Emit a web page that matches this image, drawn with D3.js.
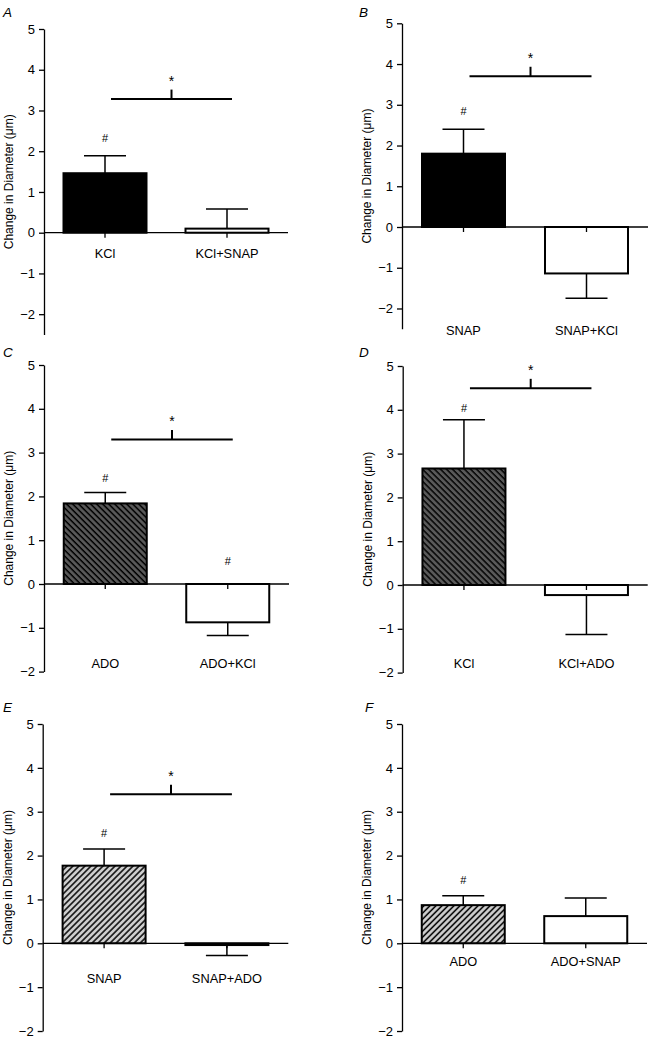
<!DOCTYPE html>
<html><head><meta charset="utf-8">
<script src="https://cdn.jsdelivr.net/npm/d3@7/dist/d3.min.js"></script>
<style>
html,body{margin:0;padding:0;background:#fff;}
svg{display:block;font-family:"Liberation Sans",Arial,sans-serif;}
</style></head>
<body>
<svg id="chart" width="652" height="1039"></svg>
<script>
// ---- data ----
const panels = ["A","B","C","D","E","F"];
const categories = [
  ["KCl","KCl+SNAP"],["SNAP","SNAP+KCl"],["ADO","ADO+KCl"],
  ["KCl","KCl+ADO"],["SNAP","SNAP+ADO"],["ADO","ADO+SNAP"]
];
const means = [[1.46,0.10],[1.80,-1.14],[1.84,-0.875],[2.66,-0.23],[1.77,-0.04],[0.87,0.62]];
const sems  = [[0.43,0.48],[0.60,0.61],[0.25,0.30],[1.11,0.90],[0.38,0.24],[0.215,0.41]];
const sigBar = [3.28,3.70,3.30,4.49,3.40,null];
const hashMarks = [[2.33,null],[2.85,null],[2.41,0.53],[4.03,null],[2.51,null],[1.44,null]];
const yTicks = [-2,-1,0,1,2,3,4,5];
const yTitle = "Change in Diameter (\u03bcm)";

// ---- layout / styles ----
const layout = [
 {ax:44,   y5:29,   y0:232.7, yMin:-2.5, xEnd:288,   lx:3,   ly:17,  labelDy:20.3, fill:["solid","open"]},
 {ax:402,  y5:23.3, y0:227,   yMin:-2.5, xEnd:648,   lx:359, ly:17,  labelDy:103,  fill:["solid","open"]},
 {ax:44,   y5:365,  y0:584,   yMin:-2,   xEnd:289,   lx:3,   ly:357, labelDy:79.3, fill:["dark","open"]},
 {ax:402.7,y5:366,  y0:585,   yMin:-2,   xEnd:647.7, lx:359, ly:357, labelDy:78.3, fill:["dark","open"]},
 {ax:42.7, y5:724,  y0:943.3, yMin:-2,   xEnd:288.3, lx:3,   ly:712, labelDy:35,   fill:["light","open"]},
 {ax:402,  y5:724,  y0:943.3, yMin:-2,   xEnd:647,   lx:365, ly:712, labelDy:18.4, fill:["light","open"]}
];
const barW = 83, capW = 42;

const svg = d3.select("#chart");
const defs = svg.append("defs");
function hatch(id, bg, angle){
  const p = defs.append("pattern").attr("id",id).attr("patternUnits","userSpaceOnUse")
    .attr("width",4.25).attr("height",4.25).attr("patternTransform",`rotate(${angle})`);
  p.append("rect").attr("width",4.25).attr("height",4.25).attr("fill",bg);
  p.append("line").attr("x1",1).attr("x2",1).attr("y1",-1).attr("y2",6)
    .attr("stroke","#000").attr("stroke-width",1.5);
}
hatch("hDark","#5a5a5a",-45);
hatch("hLight","#cfcfcf",45);
const fillMap = {solid:"#000", open:"#fff", dark:"url(#hDark)", light:"url(#hLight)"};
const fmt = d3.format("d");

panels.forEach((pid,i)=>{
  const L = layout[i];
  const unit = (L.y0 - L.y5)/5;
  const y = d3.scaleLinear().domain([L.yMin,5]).range([L.y0 - L.yMin*unit, L.y5]);
  const x = d3.scalePoint().domain(categories[i]).range([L.ax, L.xEnd]).padding(0.5);
  const g = svg.append("g");

  // panel letter
  g.append("text").attr("x",L.lx).attr("y",L.ly).attr("font-size",13.5)
    .attr("font-style","italic").text(pid);

  // y axis
  const axis = d3.axisLeft(y).tickValues(yTicks).tickFormat(fmt).tickSize(5).tickPadding(4).tickSizeOuter(0);
  const ga = g.append("g").attr("transform",`translate(${L.ax},0)`).call(axis);
  ga.selectAll("path,line").attr("stroke","#000").attr("stroke-width",1.3);
  ga.selectAll("text").attr("font-size",13).attr("font-family","Liberation Sans,Arial,sans-serif").attr("fill","#000");

  // y title
  const midY = (y(L.yMin)+y(5))/2;
  g.append("text").attr("transform",`translate(${L.ax-31},${midY}) rotate(-90)`)
    .attr("text-anchor","middle").attr("font-size",12).text(yTitle);

  const data = categories[i].map((c,j)=>({c, v:means[i][j], e:sems[i][j], f:L.fill[j], h:hashMarks[i][j]}));

  // error bars
  data.forEach(d=>{
    const s = d.v>=0?1:-1;
    const cx = x(d.c);
    g.append("line").attr("x1",cx).attr("x2",cx).attr("y1",y(d.v)).attr("y2",y(d.v+s*d.e))
      .attr("stroke","#000").attr("stroke-width",1.5);
    g.append("line").attr("x1",cx-capW/2).attr("x2",cx+capW/2).attr("y1",y(d.v+s*d.e)).attr("y2",y(d.v+s*d.e))
      .attr("stroke","#000").attr("stroke-width",1.5);
  });

  // bars
  g.selectAll("rect.bar").data(data).enter().append("rect")
    .attr("x",d=>x(d.c)-barW/2).attr("width",barW)
    .attr("y",d=>y(Math.max(0,d.v))).attr("height",d=>Math.abs(y(d.v)-y(0)))
    .attr("fill",d=>fillMap[d.f]).attr("stroke","#000").attr("stroke-width",2);

  // zero line
  g.append("line").attr("x1",L.ax).attr("x2",L.xEnd).attr("y1",y(0)).attr("y2",y(0))
    .attr("stroke","#000").attr("stroke-width",1.3);
  // category ticks
  data.forEach(d=>{
    g.append("line").attr("x1",x(d.c)).attr("x2",x(d.c)).attr("y1",y(0)).attr("y2",y(0)+5)
      .attr("stroke","#000").attr("stroke-width",1.3);
  });

  // category labels
  g.selectAll("text.cat").data(data).enter().append("text")
    .attr("x",d=>x(d.c)).attr("y",y(0)+L.labelDy+4.7).attr("text-anchor","middle")
    .attr("font-size",12.8).text(d=>d.c);

  // hash marks
  data.filter(d=>d.h!=null).forEach(d=>{
    g.append("text").attr("x",x(d.c)).attr("y",y(d.h)+4).attr("text-anchor","middle")
      .attr("font-size",11).text("#");
  });

  // significance bar
  if(sigBar[i]!=null){
    const x1 = x(categories[i][0])+6, x2 = x(categories[i][1])+5, xm=(x1+x2)/2, sy=y(sigBar[i]);
    g.append("line").attr("x1",x1).attr("x2",x2).attr("y1",sy).attr("y2",sy)
      .attr("stroke","#000").attr("stroke-width",2);
    g.append("line").attr("x1",xm).attr("x2",xm).attr("y1",sy).attr("y2",sy-9.5)
      .attr("stroke","#000").attr("stroke-width",2);
    g.append("text").attr("x",xm).attr("y",sy-20.5+7).attr("text-anchor","middle")
      .attr("font-size",14).text("*");
  }
});
</script>
</body></html>
